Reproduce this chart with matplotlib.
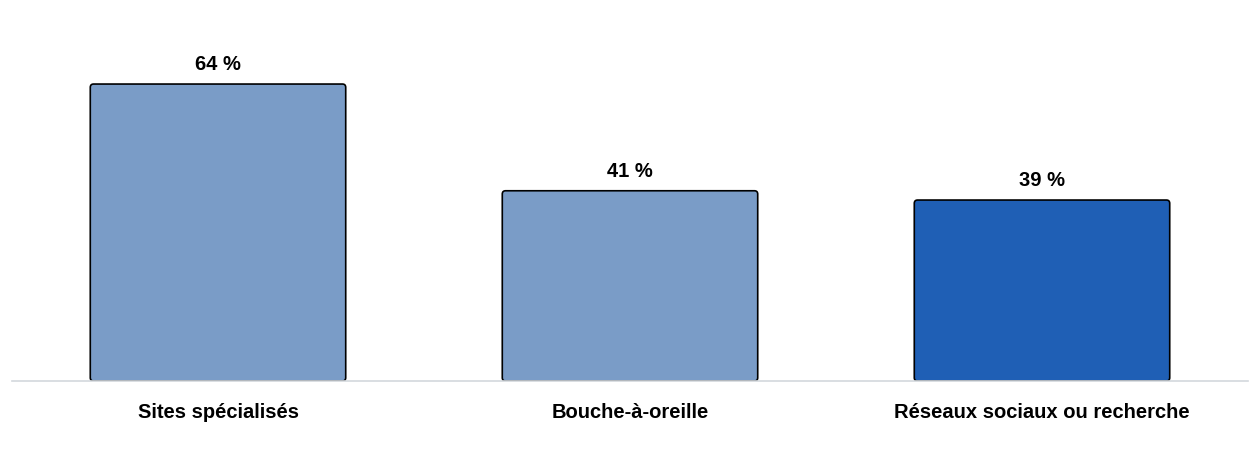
import matplotlib
matplotlib.use("Agg")
import matplotlib.pyplot as plt
from matplotlib.patches import FancyBboxPatch

categories = ["Sites spécialisés", "Bouche-à-oreille", "Réseaux sociaux ou recherche"]
values = [64, 41, 39]
value_labels = ["64 %", "41 %", "39 %"]
colors = ["#7A9CC7", "#7A9CC7", "#1F5FB5"]

plt.rcParams['font.family'] = ['Liberation Sans', 'DejaVu Sans']

fig = plt.figure(figsize=(12.6, 4.5), dpi=100)
ax = fig.add_axes([12/1260, 69/450, 1236/1260, 381/450])
x = list(range(len(categories)))
bars = ax.bar(x, values, width=0.62, color=colors, edgecolor="black", linewidth=1.2)
ax.set_xlim(-0.5, 2.5)
ax.set_ylim(0, 381/4.64)

# rounded corners
for b in bars:
    b.set_visible(False)
    p = FancyBboxPatch((b.get_x(), b.get_y()), b.get_width(), b.get_height(),
                       boxstyle="round,pad=0,rounding_size=0.008",
                       mutation_aspect=(381/4.64)/3 * (1236/381),
                       facecolor=b.get_facecolor(), edgecolor="black", linewidth=1.2)
    ax.add_patch(p)

for xi, v, lab in zip(x, values, value_labels):
    ax.annotate(lab, (xi, v), xytext=(0, 7), textcoords="offset points",
                ha="center", va="bottom", fontsize=14.5, fontweight="bold")

ax.set_xticks(x)
ax.set_xticklabels(categories, fontsize=14.5, fontweight="bold")
ax.tick_params(axis="x", length=0, pad=16)
ax.set_yticks([])
for s in ["top", "right", "left"]:
    ax.spines[s].set_visible(False)
ax.spines["bottom"].set_color("#D3D8DD")
ax.spines["bottom"].set_linewidth(1.2)

fig.savefig("out.png", dpi=100)
